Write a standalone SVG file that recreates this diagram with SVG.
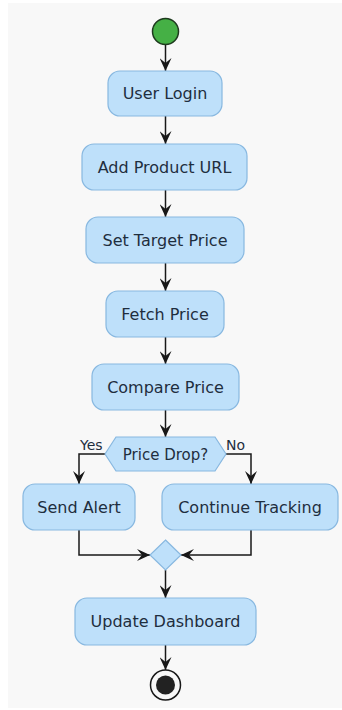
<svg xmlns="http://www.w3.org/2000/svg" width="342" height="710" viewBox="0 0 342 710">
  <style>
    .box { fill: #BEE0FA; stroke: #88B8E0; stroke-width: 1.2; }
    .lbl { font-family: "DejaVu Sans", sans-serif; font-size: 16px; fill: #1E2E3E; text-anchor: middle; }
    .dlbl { font-family: "DejaVu Sans", sans-serif; font-size: 15px; fill: #1E2E3E; text-anchor: middle; }
    .elbl { font-family: "DejaVu Sans", sans-serif; font-size: 14px; fill: #1E2E3E; }
    .edge { fill: none; stroke: #181818; stroke-width: 1.5; }
  </style>
  <defs>
    <marker id="arr" markerUnits="userSpaceOnUse" viewBox="0 0 13 12" refX="13" refY="6" markerWidth="13" markerHeight="12" orient="auto">
      <path d="M0,0 L13,6 L0,12 L5,6 Z" fill="#181818"/>
    </marker>
  </defs>
  <rect x="8" y="3" width="334" height="705" fill="#F8F8F8"/>

  <g id="connectors">
    <path class="edge" d="M165.5,45 L165.5,71" marker-end="url(#arr)"/>
    <path class="edge" d="M165.5,116 L165.5,144" marker-end="url(#arr)"/>
    <path class="edge" d="M165.5,190 L165.5,217" marker-end="url(#arr)"/>
    <path class="edge" d="M165.5,263 L165.5,291" marker-end="url(#arr)"/>
    <path class="edge" d="M165.5,337 L165.5,364" marker-end="url(#arr)"/>
    <path class="edge" d="M165.5,410 L165.5,437" marker-end="url(#arr)"/>
    <path class="edge" d="M105,454 L79,454 L79,484" marker-end="url(#arr)"/>
    <path class="edge" d="M226,454 L251,454 L251,484" marker-end="url(#arr)"/>
    <path class="edge" d="M79,530 L79,555 L150,555" marker-end="url(#arr)"/>
    <path class="edge" d="M251,530 L251,555 L181,555" marker-end="url(#arr)"/>
    <path class="edge" d="M165.5,570 L165.5,598" marker-end="url(#arr)"/>
    <path class="edge" d="M165.5,645 L165.5,670" marker-end="url(#arr)"/>
    <text class="elbl" x="80" y="450">Yes</text>
    <text class="elbl" x="226" y="450">No</text>
  </g>

  <g id="start">
    <circle cx="165.5" cy="31.5" r="13" fill="#45B045" stroke="#1E3A1E" stroke-width="1.5"/>
  </g>
  <g id="user-login">
    <rect class="box" x="108" y="71" width="114" height="45" rx="12"/>
    <text class="lbl" x="165" y="99">User Login</text>
  </g>
  <g id="add-product-url">
    <rect class="box" x="82" y="144" width="165" height="46" rx="12"/>
    <text class="lbl" x="164.5" y="172.5">Add Product URL</text>
  </g>
  <g id="set-target-price">
    <rect class="box" x="86" y="217" width="158" height="46" rx="12"/>
    <text class="lbl" x="165" y="245.5">Set Target Price</text>
  </g>
  <g id="fetch-price">
    <rect class="box" x="106" y="291" width="118" height="46" rx="12"/>
    <text class="lbl" x="165" y="319.5">Fetch Price</text>
  </g>
  <g id="compare-price">
    <rect class="box" x="92" y="364" width="147" height="46" rx="12"/>
    <text class="lbl" x="165.5" y="392.5">Compare Price</text>
  </g>
  <g id="price-drop">
    <polygon class="box" points="105,454 116,437 215,437 226,454 215,471 116,471"/>
    <text class="dlbl" x="165.5" y="459.5">Price Drop?</text>
  </g>
  <g id="send-alert">
    <rect class="box" x="23" y="484" width="112" height="46" rx="12"/>
    <text class="lbl" x="79" y="512.5">Send Alert</text>
  </g>
  <g id="continue-tracking">
    <rect class="box" x="162" y="484" width="176" height="46" rx="12"/>
    <text class="lbl" x="250" y="512.5">Continue Tracking</text>
  </g>
  <g id="merge">
    <polygon class="box" points="165.5,540 181,555 165.5,570 150,555"/>
  </g>
  <g id="update-dashboard">
    <rect class="box" x="75" y="598" width="181" height="47" rx="12"/>
    <text class="lbl" x="165.5" y="627">Update Dashboard</text>
  </g>
  <g id="end">
    <circle cx="165.5" cy="685" r="15" fill="none" stroke="#181818" stroke-width="1.5"/>
    <circle cx="165.5" cy="685" r="9.5" fill="#222222"/>
  </g>
</svg>
